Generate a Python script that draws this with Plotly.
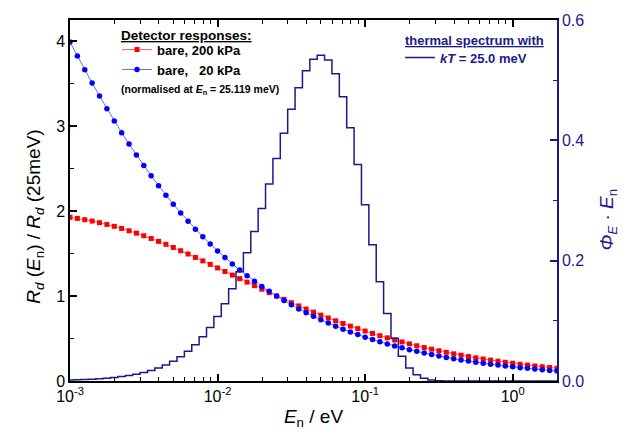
import numpy as np
import plotly.graph_objects as go

# Neutron energy grid: 20 points per decade from 1 meV to ~2 eV (eV)
energy = np.logspace(-3, 0.3, 67)

# Normalised detector responses R_d(E_n)/R_d(25 meV)
resp_200kpa = [1.927, 1.914, 1.899, 1.883, 1.864, 1.843, 1.821, 1.796, 1.769, 1.741,
               1.710, 1.678, 1.644, 1.609, 1.572, 1.534, 1.495, 1.455, 1.414, 1.373,
               1.331, 1.289, 1.247, 1.205, 1.164, 1.122, 1.081, 1.040, 1.000, 0.961,
               0.922, 0.884, 0.847, 0.811, 0.776, 0.742, 0.709, 0.677, 0.646, 0.617,
               0.588, 0.560, 0.533, 0.508, 0.483, 0.460, 0.437, 0.415, 0.394, 0.375,
               0.356, 0.338, 0.320, 0.304, 0.288, 0.273, 0.259, 0.246, 0.233, 0.220,
               0.209, 0.197, 0.187, 0.177, 0.168, 0.159, 0.150]

resp_20kpa = [3.990, 3.825, 3.664, 3.507, 3.354, 3.206, 3.062, 2.924, 2.789, 2.660,
              2.536, 2.415, 2.300, 2.188, 2.082, 1.979, 1.882, 1.788, 1.699, 1.613,
              1.531, 1.453, 1.378, 1.307, 1.240, 1.175, 1.114, 1.056, 1.000, 0.947,
              0.897, 0.849, 0.804, 0.761, 0.720, 0.682, 0.645, 0.610, 0.577, 0.546,
              0.516, 0.488, 0.462, 0.437, 0.413, 0.390, 0.369, 0.349, 0.329, 0.311,
              0.294, 0.278, 0.263, 0.248, 0.235, 0.221, 0.209, 0.198, 0.187, 0.176,
              0.167, 0.157, 0.149, 0.140, 0.133, 0.125, 0.118]

# Thermal spectrum (kT = 25 meV), lethargy representation Phi_E * E_n
thermal = [0.0015, 0.0019, 0.0024, 0.0030, 0.0038, 0.0047, 0.0059, 0.0073, 0.0091, 0.0114,
           0.0141, 0.0175, 0.0216, 0.0267, 0.0329, 0.0404, 0.0495, 0.0604, 0.0735, 0.0890,
           0.1073, 0.1286, 0.1533, 0.1814, 0.2132, 0.2484, 0.2867, 0.3275, 0.3696, 0.4117,
           0.4516, 0.4873, 0.5158, 0.5348, 0.5413, 0.5337, 0.5105, 0.4724, 0.4210, 0.3598,
           0.2931, 0.2264, 0.1649, 0.1122, 0.0710, 0.0412, 0.0218, 0.0103, 0.0044, 0.0016,
           0.0005, 0.0001, 0.0, 0.0, 0.0, 0.0, 0.0, 0.0, 0.0, 0.0,
           0.0, 0.0, 0.0, 0.0, 0.0, 0.0, 0.0]

x_tickvals = [1e-3, 1e-2, 1e-1, 1]
x_ticktext = ["10<sup>-3</sup>", "10<sup>-2</sup>", "10<sup>-1</sup>", "10<sup>0</sup>"]
x_minor = [m * 10.0 ** d for d in range(-3, 1) for m in range(2, 10)]

NAVY = "#1a1a8a"
FONT = "Arial, 'Liberation Sans', sans-serif"
UL = "<span style='text-decoration:underline'>{}</span>"

fig = go.Figure()

fig.add_trace(go.Scatter(
    x=energy, y=thermal, yaxis="y2", mode="lines",
    line=dict(color=NAVY, width=1.5, shape="hvh"),
    name="<b><i>kT</i> = 25.0 meV</b>", legend="legend2",
))
fig.add_trace(go.Scatter(
    x=energy, y=resp_200kpa, mode="lines+markers",
    line=dict(color="#ff5a5a", width=1),
    marker=dict(symbol="square", size=5, color="#ff0000"),
    name="<b>bare, 200 kPa</b>", legend="legend",
))
fig.add_trace(go.Scatter(
    x=energy, y=resp_20kpa, mode="lines+markers",
    line=dict(color="#6b6bff", width=1),
    marker=dict(symbol="circle", size=5.5, color="#0000ff"),
    name="<b>bare,\u00a0\u00a0\u00a020 kPa</b>", legend="legend",
))


def px_x(px):
    return (px - 70) / 487


def px_y(py):
    return (383 - py) / 369


fig.update_layout(
    width=629, height=436,
    margin=dict(l=70, r=72, t=14, b=53),
    paper_bgcolor="white", plot_bgcolor="white",
    font=dict(family=FONT, size=16, color="black"),
    xaxis=dict(
        type="log", range=[-3, 0.3],
        tickvals=x_tickvals, ticktext=x_ticktext,
        ticks="inside", ticklen=7, tickwidth=1.5, tickcolor="black",
        minor=dict(tickvals=x_minor, ticks="inside", ticklen=4, tickwidth=1.2, tickcolor="black"),
        showline=True, linewidth=1.5, linecolor="black", mirror="ticks",
        showgrid=False, zeroline=False,
        tickfont=dict(size=16),
        title=dict(text="<i>E</i><sub>n</sub> / eV", font=dict(size=19), standoff=6),
    ),
    yaxis=dict(
        range=[0, 4.25], tickvals=[0, 1, 2, 3, 4],
        ticks="inside", ticklen=7, tickwidth=1.5, tickcolor="black",
        minor=dict(dtick=0.5, ticks="inside", ticklen=4, tickwidth=1.2, tickcolor="black"),
        showline=True, linewidth=1.5, linecolor="black",
        showgrid=False, zeroline=False,
        tickfont=dict(size=16),
    ),
    yaxis2=dict(
        overlaying="y", side="right", range=[0, 0.6], dtick=0.2, tickformat=".1f",
        ticks="inside", ticklen=7, tickwidth=1.5, tickcolor=NAVY,
        minor=dict(dtick=0.1, ticks="inside", ticklen=4, tickwidth=1.2, tickcolor=NAVY),
        showline=True, linewidth=1.5, linecolor=NAVY,
        showgrid=False, zeroline=False,
        tickfont=dict(size=16, color=NAVY),
    ),
    legend=dict(
        x=px_x(117), y=px_y(29), xanchor="left", yanchor="top",
        bgcolor="rgba(0,0,0,0)", borderwidth=0,
        font=dict(size=13, color="black"),
        tracegroupgap=0, itemwidth=30,
    ),
    legend2=dict(
        x=px_x(400), y=px_y(37), xanchor="left", yanchor="top",
        bgcolor="rgba(0,0,0,0)", borderwidth=0,
        font=dict(size=13, color=NAVY),
        itemwidth=30,
    ),
    showlegend=True,
    annotations=[
        # legend headings
        dict(text="<b>" + UL.format("Detector responses:") + "</b>",
             xref="paper", yref="paper", x=px_x(119), y=px_y(30),
             xanchor="left", yanchor="middle", showarrow=False,
             font=dict(size=13.5, color="black")),
        dict(text="<b>(normalised at <i>E</i><sub>n</sub> = 25.119 meV)</b>",
             xref="paper", yref="paper", x=px_x(119), y=px_y(86),
             xanchor="left", yanchor="middle", showarrow=False,
             font=dict(size=10.5, color="black")),
        dict(text="<b>" + UL.format("thermal spectrum with") + "</b>",
             xref="paper", yref="paper", x=px_x(403), y=px_y(35),
             xanchor="left", yanchor="middle", showarrow=False,
             font=dict(size=13, color=NAVY)),
        # titles of the two ordinates
        dict(text="<i>R</i><sub><i>d</i></sub> (<i>E</i><sub>n</sub>) / <i>R</i><sub><i>d</i></sub> (25meV)",
             xref="paper", yref="paper", x=px_x(35), y=px_y(215),
             xanchor="center", yanchor="middle", textangle=-90, showarrow=False,
             font=dict(size=19, color="black")),
        dict(text="<i>\u03a6</i><sub><i>E</i></sub> \u00b7 <i>E</i><sub>n</sub>",
             xref="paper", yref="paper", x=px_x(608), y=px_y(218),
             xanchor="center", yanchor="middle", textangle=-90, showarrow=False,
             font=dict(size=19, color=NAVY)),
    ],
)

fig.write_html("out.html")
